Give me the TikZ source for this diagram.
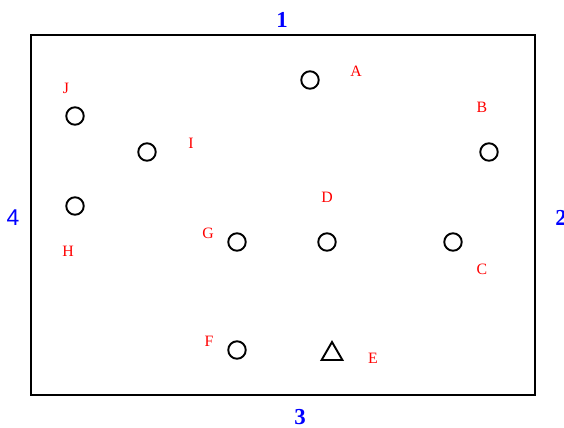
\documentclass[tikz,border=0pt]{standalone}
\usepackage{fontspec}
\setmainfont{Liberation Serif}
\newfontfamily\sidefont{Liberation Sans}
\usetikzlibrary{shapes.geometric}
\tikzset{
  room/.style={draw=black, line width=1.2pt},
  spot/.style={circle, draw=black, line width=1.1pt, minimum size=17.5*0.02cm, inner sep=0pt},
  spotmark/.style={regular polygon, regular polygon sides=3, draw=black, line width=1.1pt, minimum size=24*0.02cm, inner sep=0pt},
  spotlabel/.style={text=red, font=\fontsize{9}{10}\selectfont, inner sep=0pt},
  sidelabel/.style={text=blue, font=\fontsize{13}{15}\selectfont\bfseries, inner sep=0pt},
}
\begin{document}
\begin{tikzpicture}[x=0.02cm, y=-0.02cm]
\useasboundingbox (0,0) rectangle (564,427);
\draw[room] (31,35) rectangle (535,395);
\node[sidelabel] (s1) at (282,20) {1};
\node[sidelabel] (s2) at (561,218) {2};
\node[sidelabel] (s3) at (300,417) {3};
\node[sidelabel, font=\sidefont\fontsize{13}{15}\selectfont] (s4) at (13,218) {4};
\node[spot] (pa) at (310,80) {};
\node[spotlabel] (la) at (356,71) {A};
\node[spot] (pb) at (489,152) {};
\node[spotlabel] (lb) at (482,107) {B};
\node[spot] (pc) at (453,242) {};
\node[spotlabel] (lc) at (482,269) {C};
\node[spot] (pd) at (327,242) {};
\node[spotlabel] (ld) at (327,197) {D};
\node[spotmark] (pe) at (332,354) {};
\node[spotlabel] (le) at (373,358) {E};
\node[spot] (pf) at (237,350) {};
\node[spotlabel] (lf) at (209,341) {F};
\node[spot] (pg) at (237,242) {};
\node[spotlabel] (lg) at (208,233) {G};
\node[spot] (ph) at (75,206) {};
\node[spotlabel] (lh) at (68,251) {H};
\node[spot] (pi) at (147,152) {};
\node[spotlabel] (li) at (191,143) {I};
\node[spot] (pj) at (75,116) {};
\node[spotlabel] (lj) at (66,88) {J};
\end{tikzpicture}
\end{document}
